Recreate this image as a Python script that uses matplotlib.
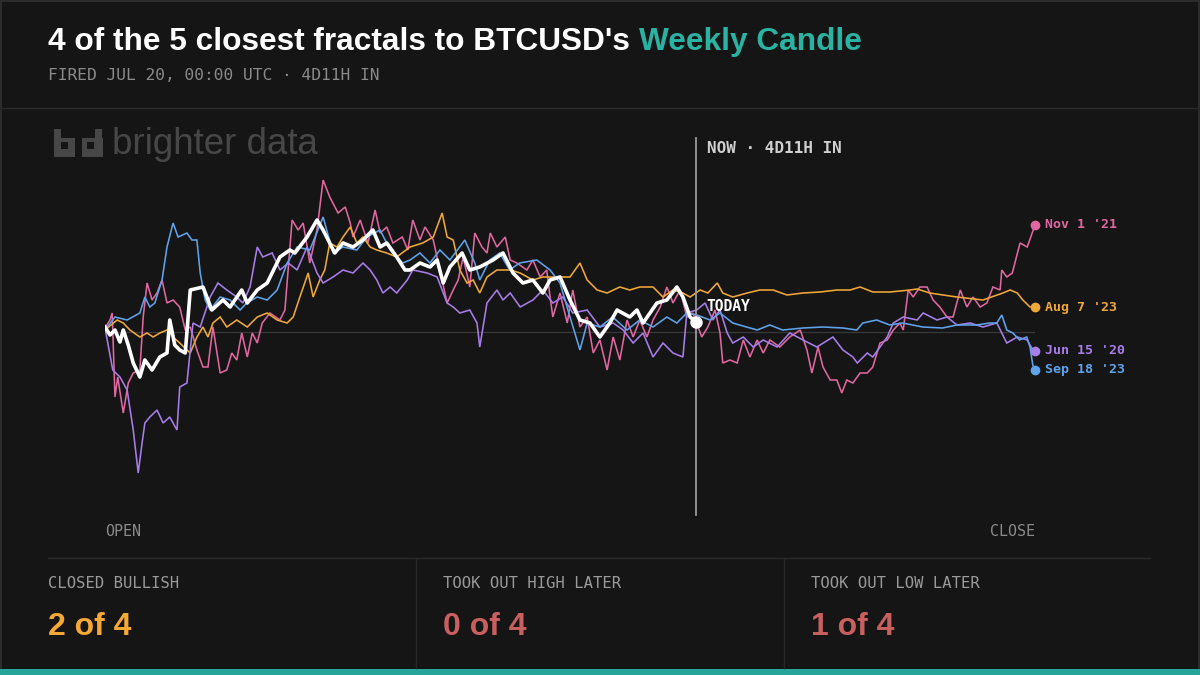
import matplotlib
matplotlib.use("Agg")
import matplotlib.pyplot as plt
from matplotlib.patches import Rectangle

# ---------------- data (hours into the weekly candle, % change from open) ----------------
CANDLE_HOURS = 168
NOW_HOURS = 106.8

current_week = [(0, 0.2), (0.9, -0.12), (1.8, 0.08), (2.7, -0.4), (3.3, 0.08), (4.2, -0.52), (5.1, -1.24),
                (6.3, -1.8), (7.2, -1.12), (8.5, -1.52), (9.9, -1.0), (11.2, -0.84), (11.7, 0.48), (12.6, -0.52),
                (13.5, -0.72), (14.5, -0.84), (15.4, 1.68), (17.7, 1.8), (19.3, 0.88), (21.3, 1.28), (22.6, 1.0),
                (24.7, 1.68), (25.7, 1.16), (27.5, 1.68), (29.3, 1.96), (31.6, 3.0), (33.4, 3.28), (34.3, 3.16),
                (36.5, 3.8), (38.3, 4.48), (39.4, 4.08), (41.5, 3.16), (43.0, 3.56), (44.8, 3.4), (46.6, 3.68),
                (48.4, 4.08), (49.7, 3.4), (50.9, 3.56), (52.7, 3.0), (54.2, 2.48), (55.1, 2.48), (56.9, 2.76),
                (58.7, 2.6), (60.0, 2.88), (61.1, 1.96), (62.3, 2.6), (64.5, 3.16), (65.9, 2.48), (67.7, 2.6),
                (70.1, 2.88), (71.9, 3.16), (73.7, 2.36), (75.5, 1.96), (77.3, 2.08), (79.1, 1.56), (80.4, 2.08),
                (82.2, 2.2), (84.0, 1.28), (85.8, 0.48), (87.6, 0.36), (89.4, -0.2), (91.2, 0.36), (92.5, 0.88),
                (94.8, 0.6), (96.1, 0.88), (97.2, 0.36), (99.7, 1.16), (101.5, 1.28), (103.3, 1.8), (104.4, 1.4),
                (105.7, 0.6), (106.8, 0.4)]

nov_1_21 = [(0, 0.16), (0.9, 0.48), (1.3, 0.76), (1.8, -2.6), (2.3, -1.8), (3.3, -3.24), (4.2, -2.04),
            (5.1, -1.64), (6.3, -1.52), (6.9, 0.6), (7.6, 1.96), (8.5, 1.28), (9.4, 1.56), (10.3, 2.08),
            (11.2, 1.16), (12.3, 1.28), (13.5, 1.0), (14.5, 0.08), (15.4, 0.2), (16.6, -0.72), (17.7, -1.4),
            (18.6, -1.4), (19.5, 0.2), (20.8, -1.64), (22.0, -1.52), (22.9, -0.84), (23.8, -1.12), (24.7, -0.04),
            (25.7, -1.0), (26.6, -0.04), (27.5, -0.44), (28.4, 0.36), (29.8, 0.76), (31.6, 0.48), (32.5, 0.88),
            (33.8, 4.48), (34.9, 4.08), (35.8, 4.36), (37.0, 2.76), (38.3, 4.08), (39.4, 6.08), (40.6, 5.4),
            (42.1, 4.76), (43.4, 5.0), (44.3, 4.36), (44.8, 3.8), (46.1, 4.48), (47.5, 3.56), (48.8, 4.88),
            (49.7, 3.96), (50.9, 4.2), (52.0, 3.56), (53.7, 3.8), (54.7, 3.28), (55.6, 4.48), (56.9, 3.68),
            (57.8, 4.2), (59.3, 3.68), (60.5, 2.48), (61.8, 1.16), (62.9, 1.68), (63.8, 2.08), (64.7, 3.0),
            (65.9, 1.8), (66.8, 3.96), (68.1, 3.4), (69.0, 3.16), (69.6, 3.96), (70.8, 3.4), (72.3, 3.8),
            (73.2, 2.88), (74.4, 2.76), (76.2, 2.48), (77.3, 2.88), (78.6, 2.2), (79.8, 2.48), (80.4, 1.4),
            (80.9, 0.6), (82.2, 1.56), (83.5, 0.36), (84.5, 1.68), (85.8, 0.2), (87.1, 0.6), (88.2, -0.84),
            (89.4, -0.32), (90.7, -1.52), (91.8, -0.2), (93.0, -1.12), (94.3, 0.48), (95.4, -0.2), (96.6, 0.48),
            (97.9, -0.2), (99.0, 0.48), (100.3, 1.0), (101.5, 1.8), (102.6, 1.16), (103.9, 1.68), (105.1, 0.6),
            (106.2, 0.76), (107.8, -0.2), (108.9, 0.2), (110.2, 0.88), (111.1, -0.04), (111.6, -1.24),
            (112.9, -1.12), (114.2, -1.24), (115.3, -0.32), (116.5, -1.0), (117.8, -0.32), (118.9, -0.84),
            (120.1, -0.32), (121.9, -0.6), (123.7, -0.2), (125.6, 0.08), (126.8, -0.72), (127.7, -1.64),
            (128.8, -0.6), (129.7, -1.4), (131.0, -1.92), (132.2, -1.92), (133.1, -2.44), (134.0, -1.92),
            (135.1, -2.04), (136.4, -1.64), (137.7, -1.64), (138.7, -1.4), (140.0, -0.44), (141.3, -0.32),
            (142.4, 0.08), (143.6, 0.36), (144.2, 0.08), (145.1, 1.68), (146.0, 1.4), (147.2, 1.8), (148.5, 1.8),
            (149.6, 1.28), (150.8, 1.0), (152.1, 0.6), (153.2, 0.6), (154.5, 1.68), (155.7, 1.0), (156.8, 1.4),
            (158.1, 1.0), (159.3, 1.16), (160.4, 1.8), (161.7, 1.68), (162.0, 2.48), (162.9, 2.2), (163.9, 2.36),
            (165.3, 3.56), (166.6, 3.4), (167.5, 3.96), (168.0, 4.28)]

aug_7_23 = [(0, 0.08), (2.2, 0.48), (3.3, 0.36), (4.5, 0.08), (6.3, -0.2), (7.6, -0.04), (8.7, -0.2),
            (9.9, -0.04), (11.2, 0.08), (12.3, -0.2), (13.5, -0.44), (14.8, -0.72), (15.4, -0.84), (16.6, -0.2),
            (17.7, 0.2), (18.6, -0.2), (19.5, 0.36), (20.8, 0.6), (22.0, 0.2), (23.8, 0.48), (25.7, 0.2),
            (27.5, 0.6), (29.3, 0.76), (31.1, 0.48), (32.9, 0.36), (34.0, 0.6), (35.2, 1.4), (36.7, 2.36),
            (37.6, 1.4), (38.8, 2.08), (39.7, 2.48), (40.6, 3.56), (41.9, 3.4), (43.0, 3.8), (44.3, 4.2),
            (45.5, 3.56), (46.6, 3.8), (47.9, 3.4), (49.1, 3.28), (50.9, 3.16), (52.7, 3.0), (55.1, 3.4),
            (57.4, 3.56), (59.3, 3.8), (60.9, 4.76), (61.8, 3.8), (62.9, 3.68), (64.1, 2.48), (65.4, 1.96),
            (66.5, 2.08), (67.7, 1.56), (69.0, 2.2), (70.8, 2.48), (73.2, 2.48), (75.0, 2.36), (77.3, 2.08),
            (79.1, 2.2), (82.2, 2.2), (84.0, 2.2), (85.8, 2.76), (87.1, 2.08), (88.9, 1.68), (90.7, 1.56),
            (93.0, 1.8), (94.8, 1.68), (96.6, 1.8), (99.0, 1.8), (100.8, 1.4), (102.6, 1.68), (104.4, 1.56),
            (105.7, 1.4), (107.5, 1.68), (108.9, 1.56), (110.6, 1.96), (111.6, 1.56), (113.4, 1.4), (116.0, 1.56),
            (118.3, 1.68), (120.7, 1.68), (123.2, 1.48), (126.1, 1.56), (129.2, 1.6), (132.2, 1.68), (134.6, 1.68),
            (136.4, 1.8), (138.7, 1.6), (141.8, 1.6), (145.4, 1.68), (146.7, 1.72), (149.0, 1.56), (151.4, 1.48),
            (153.9, 1.4), (158.6, 1.28), (162.2, 1.56), (163.5, 1.68), (164.8, 1.56), (165.8, 1.28), (167.1, 1.0),
            (168.0, 1.0)]

jun_15_20 = [(0, 0.16), (1.4, -1.52), (2.7, -1.8), (4.0, -2.32), (5.1, -3.92), (6.0, -5.64), (6.7, -4.44),
             (7.2, -3.64), (8.1, -3.4), (9.4, -3.12), (10.5, -3.64), (11.7, -3.4), (13.0, -3.92), (13.5, -2.2),
             (14.8, -2.04), (15.9, 0.36), (17.2, 0.2), (19.0, 1.4), (20.4, 1.96), (22.0, 1.68), (23.8, 1.4),
             (24.9, 1.16), (26.2, 1.8), (27.5, 3.4), (28.5, 3.0), (30.2, 3.16), (31.6, 2.48), (33.1, 2.76),
             (34.7, 2.48), (36.5, 3.4), (38.3, 2.36), (39.4, 1.96), (41.2, 2.2), (43.0, 2.48), (44.8, 2.36),
             (46.6, 2.76), (47.9, 2.48), (49.1, 2.08), (50.2, 1.56), (51.5, 1.8), (52.7, 1.56), (54.6, 2.08),
             (55.6, 2.48), (58.2, 2.36), (60.0, 2.2), (61.8, 1.16), (62.9, 1.0), (64.1, 0.76), (65.9, 0.88),
             (67.2, 0.36), (67.7, -0.6), (69.0, 1.16), (70.8, 1.68), (71.9, 1.28), (73.2, 1.56), (75.0, 1.0),
             (77.3, 1.28), (79.1, 1.68), (80.9, 1.16), (82.7, 1.4), (84.5, 0.76), (87.1, 0.88), (89.4, 0.2),
             (91.8, 0.36), (93.6, 0.08), (95.4, -0.44), (97.2, -0.04), (99.0, -1.0), (100.8, -0.44),
             (102.6, -0.84), (104.4, -1.0), (105.1, 0.76), (106.9, 0.88), (108.4, 1.16), (109.8, 0.48),
             (111.1, 0.88), (112.4, -0.04), (113.4, -0.44), (115.3, -0.2), (117.1, -0.6), (118.9, -0.32),
             (121.4, -0.6), (123.7, -0.04), (126.1, -0.32), (128.6, -0.6), (131.5, -0.2), (133.3, -0.72),
             (135.1, -1.0), (135.9, -1.24), (137.7, -0.84), (138.7, -1.0), (140.0, -0.6), (141.3, -0.2),
             (142.4, 0.36), (144.2, 0.6), (146.7, 0.48), (147.8, 0.76), (150.3, 0.48), (152.1, 0.6),
             (153.9, 0.28), (156.3, 0.36), (158.6, 0.2), (161.1, 0.36), (162.9, -0.44), (164.8, -0.2),
             (166.6, -0.32), (167.6, -0.72), (168.0, -0.76)]

sep_18_23 = [(0, 0.08), (1.8, 0.6), (4.0, 0.48), (6.3, 0.76), (7.2, 1.4), (8.1, 1.0), (9.0, 1.16), (10.3, 2.08),
             (11.2, 3.4), (12.3, 4.36), (13.2, 3.8), (14.8, 3.96), (15.7, 3.68), (16.6, 3.68), (17.2, 2.36),
             (18.1, 1.28), (19.0, 0.88), (20.8, 1.4), (22.6, 1.28), (24.4, 0.88), (25.6, 1.16), (27.5, 1.4),
             (29.3, 1.28), (31.1, 1.68), (32.9, 2.76), (34.7, 3.4), (37.0, 3.28), (39.4, 4.6), (41.2, 3.16),
             (43.0, 3.4), (45.5, 3.28), (47.3, 3.8), (49.7, 4.08), (51.5, 3.28), (53.8, 2.76), (55.1, 2.88),
             (56.9, 3.16), (58.7, 2.76), (60.5, 3.28), (62.3, 2.88), (65.0, 3.68), (66.8, 2.76), (67.7, 2.08),
             (69.5, 2.88), (71.3, 3.16), (73.1, 2.48), (74.9, 2.76), (78.0, 2.88), (80.4, 2.48), (82.2, 1.96),
             (84.0, 0.6), (85.8, -0.72), (87.1, 0.36), (89.4, 0.2), (91.7, 0.6), (94.3, 0.08), (96.6, 0.48),
             (99.0, 0.2), (101.5, 0.6), (103.3, 0.36), (105.1, 0.76), (106.9, 0.68), (109.3, 0.48), (111.1, 0.76),
             (113.4, 0.36), (115.9, 0.2), (117.8, 0.08), (120.1, 0.28), (122.4, 0.08), (126.1, 0.16),
             (129.7, 0.2), (133.3, 0.16), (135.8, 0.08), (136.9, 0.36), (139.4, 0.48), (141.8, 0.28),
             (144.1, 0.36), (147.7, 0.2), (151.3, 0.16), (153.9, 0.28), (157.5, 0.28), (159.8, 0.36),
             (161.1, 0.36), (162.0, 0.68), (162.9, 0.08), (164.0, -0.04), (165.2, -0.32), (166.5, -0.2),
             (167.1, -0.6), (167.6, -1.32), (168.0, -1.52)]

fractal_labels = ["Nov 1 '21", "Aug 7 '23", "Jun 15 '20", "Sep 18 '23"]
fractal_series = [nov_1_21, aug_7_23, jun_15_20, sep_18_23]
fractal_colors = ["#e0679f", "#f0a838", "#a77de9", "#5fa3ea"]

stat_titles = ["CLOSED BULLISH", "TOOK OUT HIGH LATER", "TOOK OUT LOW LATER"]
stat_values = ["2 of 4", "0 of 4", "1 of 4"]
stat_colors = ["#f5a833", "#c9605f", "#c9605f"]

# ---------------- styling ----------------
BG = "#151515"
MONO = "DejaVu Sans Mono"
SANS = "Liberation Sans"
W, H = 1200, 675

fig = plt.figure(figsize=(12, 6.75), dpi=100, facecolor=BG)


def fx(x):
    return x / W


def fy(y):
    return 1 - y / H


# frame and separators
fig.patches.append(Rectangle((0.001, 0.001), 0.998, 0.998, transform=fig.transFigure,
                             fill=False, edgecolor="#2c2c2c", lw=1.5))
fig.add_artist(plt.Line2D([0, 1], [fy(108), fy(108)], transform=fig.transFigure, color="#2a2a2a", lw=1))
fig.add_artist(plt.Line2D([fx(48), fx(1150)], [fy(558), fy(558)], transform=fig.transFigure, color="#2a2a2a", lw=1))
for xs in (416, 784):
    fig.add_artist(plt.Line2D([fx(xs), fx(xs)], [fy(558), fy(668)], transform=fig.transFigure,
                              color="#262626", lw=1))
fig.patches.append(Rectangle((0, 0), 1, fy(669), transform=fig.transFigure, color="#26a69a", lw=0))

# title (two colours)
t1 = fig.text(fx(48), fy(42), "4 of the 5 closest fractals to BTCUSD's ", color="white",
              fontsize=22.8, fontweight="bold", family=SANS, va="center", ha="left")
renderer = fig.canvas.get_renderer()
bb = t1.get_window_extent(renderer=renderer)
fig.text(bb.x1 / W, fy(42), "Weekly Candle", color="#2ab3a2", fontsize=22.8, fontweight="bold",
         family=SANS, va="center", ha="left")
fig.text(fx(48), fy(76), "FIRED JUL 20, 00:00 UTC · 4D11H IN", color="#8a8a8a",
         fontsize=11.7, family=MONO, va="center", ha="left")

# logo mark ("b" and "d" blocks)
LOGO = "#474747"
for x0, stem_x, hole_x in ((54, 54, 61), (82, 95, 87)):
    fig.patches.append(Rectangle((fx(x0), fy(157)), fx(21), 19 / H, transform=fig.transFigure,
                                 color=LOGO, lw=0))
    fig.patches.append(Rectangle((fx(stem_x), fy(157)), fx(7), 28 / H, transform=fig.transFigure,
                                 color=LOGO, lw=0))
    fig.patches.append(Rectangle((fx(hole_x), fy(149)), fx(7), 7 / H, transform=fig.transFigure,
                                 color=BG, lw=0))
fig.text(fx(112), fy(144), "brighter data", color=LOGO, fontsize=26.5, family=SANS,
         va="center", ha="left")

# chart axes
ax = fig.add_axes([fx(105), fy(515), fx(930), 385 / H])
ax.set_facecolor("none")
ax.set_xlim(0, CANDLE_HOURS)
ax.set_ylim(-7.32, 8.08)
ax.axis("off")

ax.axhline(0, color="#383838", lw=0.9, zorder=1)

for series, color in zip(fractal_series, fractal_colors):
    xs = [p[0] for p in series]
    ys = [p[1] for p in series]
    ax.plot(xs, ys, color=color, lw=1.15, zorder=2, solid_joinstyle="miter")

cx = [p[0] for p in current_week]
cy = [p[1] for p in current_week]
ax.plot(cx, cy, color="white", lw=2.6, zorder=4, solid_joinstyle="round")
ax.plot(cx[-1], cy[-1], "o", color="white", ms=8, zorder=5)
ax.annotate("TODAY", (cx[-1], cy[-1]), xytext=(7.5, 11.5), textcoords="offset points",
            color="white", fontsize=10.5, fontweight="bold", family=MONO, va="center", ha="left",
            zorder=6)

# NOW line
ax.plot([NOW_HOURS, NOW_HOURS], [0, 0.979], transform=ax.get_xaxis_transform(),
        color="#9a9a9a", lw=1.3, zorder=3, clip_on=False)
ax.annotate("NOW · 4D11H IN", (NOW_HOURS, 0.953), xycoords=("data", "axes fraction"),
            xytext=(7.5, 0), textcoords="offset points", color="#d0d0d0", fontsize=11.5,
            fontweight="bold", family=MONO, va="center", ha="left")

# end dots + labels
for series, color, label in zip(fractal_series, fractal_colors, fractal_labels):
    ex, ey = series[-1]
    ax.plot(ex, ey, "o", color=color, ms=6, zorder=5, clip_on=False)
    ax.annotate(label, (ex, ey), xytext=(7, 0), textcoords="offset points", color=color,
                fontsize=9.5, fontweight="bold", family=MONO, va="center", ha="left",
                annotation_clip=False)

fig.text(fx(105), fy(531), "OPEN", color="#8a8a8a", fontsize=10.8, family=MONO, va="center", ha="left")
fig.text(fx(1035), fy(531), "CLOSE", color="#8a8a8a", fontsize=10.8, family=MONO, va="center", ha="right")

# stats
for i, (ttl, val, col) in enumerate(zip(stat_titles, stat_values, stat_colors)):
    x0 = [48, 443, 811][i]
    fig.text(fx(x0), fy(584), ttl, color="#9a9a9a", fontsize=11.2, family=MONO, va="center", ha="left")
    fig.text(fx(x0), fy(627), val, color=col, fontsize=23, family=SANS, fontweight="bold",
             va="center", ha="left")

fig.savefig("out.png", dpi=100, facecolor=BG)
